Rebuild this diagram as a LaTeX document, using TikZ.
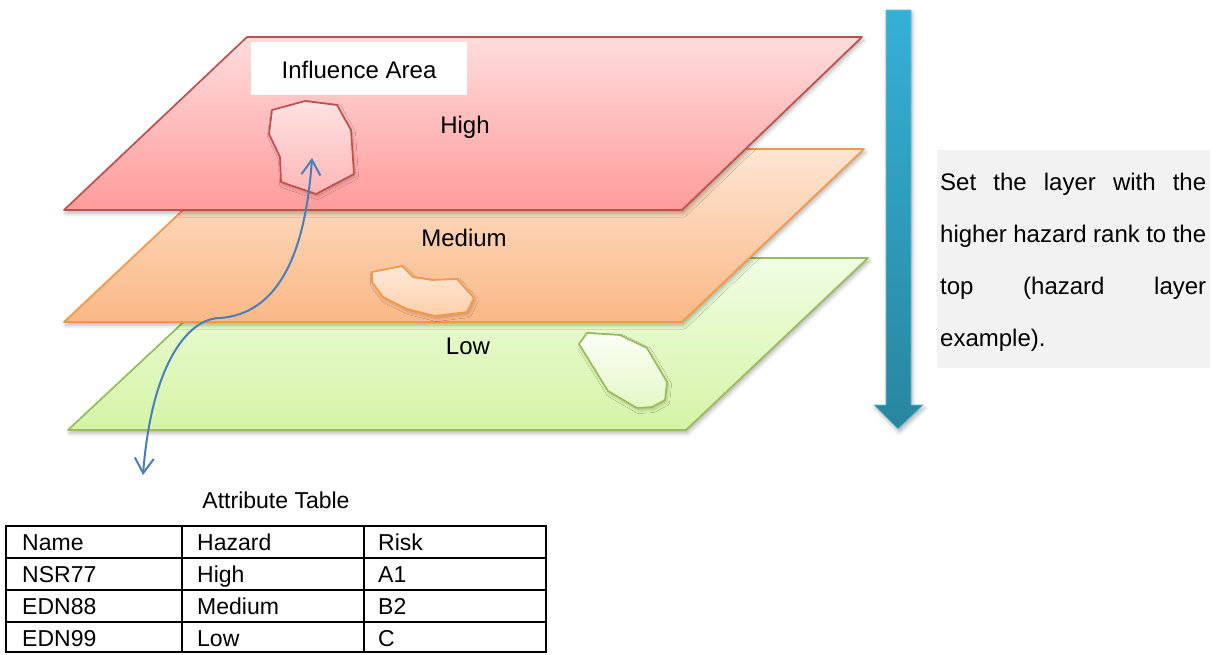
\documentclass[tikz,border=0pt]{standalone}
\usepackage{fontspec}
\setmainfont{Liberation Sans}
\usetikzlibrary{arrows.meta,shadows.blur}

\definecolor{redEdge}{HTML}{C0504D}
\definecolor{redTop}{HTML}{FFDCDC}
\definecolor{redBot}{HTML}{FF9B9B}
\definecolor{redAreaTop}{HTML}{FFE2E2}
\definecolor{redAreaBot}{HTML}{FFB6B6}
\definecolor{orgEdge}{HTML}{F79646}
\definecolor{orgTop}{HTML}{FDE5D2}
\definecolor{orgBot}{HTML}{FBB886}
\definecolor{orgAreaTop}{HTML}{FFE8D8}
\definecolor{orgAreaBot}{HTML}{FFD0AC}
\definecolor{grnEdge}{HTML}{9BBB59}
\definecolor{grnTop}{HTML}{F0FDE3}
\definecolor{grnBot}{HTML}{D5F4A6}
\definecolor{grnAreaTop}{HTML}{FCFFF7}
\definecolor{grnAreaBot}{HTML}{E4F7C6}
\definecolor{linkBlue}{HTML}{4A7EBB}
\definecolor{flowTop}{HTML}{35B0D6}
\definecolor{flowBot}{HTML}{28869E}
\definecolor{noteBg}{HTML}{F2F2F2}

\begin{document}
\begin{tikzpicture}[x=1pt,y=-1pt,
  softshadow/.style={blur shadow={shadow xshift=1.5pt,shadow yshift=-3pt,
      shadow blur radius=4pt,shadow opacity=30}},
  areashadow/.style={blur shadow={shadow xshift=1.5pt,shadow yshift=-2.5pt,
      shadow blur radius=3pt,shadow opacity=20}},
  plane/.style={softshadow,line width=1.7pt,line join=round},
  area/.style={areashadow,line width=1.7pt,line join=round},
  lbl/.style={font=\fontsize{24}{28}\selectfont,inner sep=0pt,anchor=base},
  notetext/.style={font=\fontsize{24}{28}\selectfont,inner sep=0pt,anchor=base west},
  celltext/.style={font=\fontsize{23}{27}\selectfont,inner sep=0pt,anchor=base west},
  link/.style={draw=linkBlue,line width=2pt,
      {Straight Barb[length=15pt,width=19pt]}-{Straight Barb[length=15pt,width=19pt]}},
  grid/.style={line width=2pt}
]
\useasboundingbox (0,0) rectangle (1217,654);

% ---- Low layer
\draw[plane,draw=grnEdge,top color=grnTop,bottom color=grnBot]
  (252,258) -- (868,258) -- (686,430) -- (68,430) -- cycle;
\draw[area,draw=grnEdge,top color=grnAreaTop,bottom color=grnAreaBot]
  (587,333) -- (620,335) -- (647,348) -- (667,382) -- (665,400) -- (652,407)
  -- (637,408) -- (608,391) -- (579,344) -- cycle;
\node[lbl] (low) at (468,354) {Low};

% ---- Medium layer
\draw[plane,draw=orgEdge,top color=orgTop,bottom color=orgBot]
  (248,149) -- (864,149) -- (682,322) -- (64,322) -- cycle;
\draw[area,draw=orgEdge,top color=orgAreaTop,bottom color=orgAreaBot]
  (372,272) -- (402,266) -- (413,277) -- (432,280) -- (457,279) -- (474,298)
  -- (467,312) -- (435,316) -- (407,309) -- (383,297) -- (372,282) -- cycle;
\node[lbl] (medium) at (464,246) {Medium};

% ---- High layer
\draw[plane,draw=redEdge,top color=redTop,bottom color=redBot]
  (247,37) -- (862,37) -- (682,210) -- (64,210) -- cycle;
\fill[white] (251,42) rectangle (467,95);
\node[lbl] (influence) at (359,78) {Influence Area};
\draw[area,draw=redEdge,top color=redAreaTop,bottom color=redAreaBot]
  (272,110) -- (305,101) -- (337,105) -- (351,130) -- (354,174) -- (316,194)
  -- (281,182) -- (280,157) -- (269,134) -- cycle;
\node[lbl] (high) at (465,133) {High};

% ---- link between the hazard area and the attribute table
\coordinate (areaEnd) at (312,158);
\coordinate (tableEnd) at (143,475);
\draw[link] (tableEnd) .. controls (152,360) and (190,318) .. (220,318)
  .. controls (275,314) and (305,260) .. (areaEnd);

% ---- rank arrow
\draw[softshadow,draw=flowTop!80!white,line width=0.6pt,top color=flowTop,bottom color=flowBot]
  (886,10) -- (911,10) -- (911,405) -- (923,405) -- (898,429) -- (874,405)
  -- (886,405) -- cycle;

% ---- note
\fill[noteBg] (937,150) rectangle (1210,368);
\node[notetext] (n1) at (940,190) {\makebox[266pt][s]{Set the layer with the}};
\node[notetext] (n2) at (940,242) {\makebox[266pt][s]{higher hazard rank to the}};
\node[notetext] (n3) at (940,294) {\makebox[266pt][s]{top (hazard layer}};
\node[notetext] (n4) at (940,346) {example).};

% ---- attribute table
\node[lbl,font=\fontsize{23}{27}\selectfont] (ttitle) at (276,508) {Attribute Table};
\draw[grid] (6,526) rectangle (546,652);
\draw[grid] (6,558) -- (546,558) (6,590) -- (546,590) (6,622) -- (546,622);
\draw[grid] (182,526) -- (182,652) (364,526) -- (364,652);

\node[celltext] (h1) at (22,550) {Name};
\node[celltext] (h2) at (197,550) {Hazard};
\node[celltext] (h3) at (378,550) {Risk};
\node[celltext] (a1) at (22,582) {NSR77};
\node[celltext] (a2) at (197,582) {High};
\node[celltext] (a3) at (378,582) {A1};
\node[celltext] (b1) at (22,614) {EDN88};
\node[celltext] (b2) at (197,614) {Medium};
\node[celltext] (b3) at (378,614) {B2};
\node[celltext] (c1) at (22,646) {EDN99};
\node[celltext] (c2) at (197,646) {Low};
\node[celltext] (c3) at (378,646) {C};
\end{tikzpicture}
\end{document}
